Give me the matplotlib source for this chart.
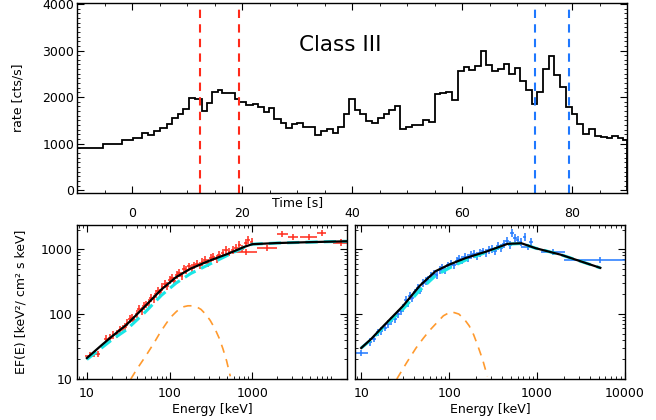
import numpy as np
import matplotlib.pyplot as plt
from matplotlib.ticker import MultipleLocator, LogLocator, NullFormatter, FixedLocator, FixedFormatter

plt.rcParams['font.family'] = ['DejaVu Sans']
plt.rcParams['font.size'] = 9

# light curve (bin edges in s, rate in cts/s)
t_edges = [-10.0, -5.30, -1.84, 0.25, 1.75, 2.99, 3.97, 5.14, 6.32, 7.30, 8.28, 9.32,
           10.37, 11.50, 12.65, 13.63, 14.61, 15.59, 16.44, 17.55, 18.66, 19.50, 20.81,
           21.92, 22.90, 23.94, 24.92, 25.90, 27.01, 27.99, 29.10, 30.08, 31.12, 32.23,
           33.21, 34.32, 35.37, 36.48, 37.52, 38.56, 39.54, 40.52, 41.50, 42.55, 43.66,
           44.64, 45.74, 46.72, 47.77, 48.75, 49.86, 50.84, 51.81, 52.92, 53.97, 55.08,
           56.06, 57.04, 58.15, 59.19, 60.30, 61.28, 62.39, 63.43, 64.41, 65.39, 66.50,
           67.61, 68.59, 69.63, 70.61, 71.59, 72.64, 73.68, 74.73, 75.77, 76.75, 77.86,
           78.90, 79.95, 80.99, 82.04, 83.02, 84.13, 85.23, 86.28, 87.26, 88.30, 89.35,
           90.0]
rate = [902, 1000, 1070, 1112, 1224, 1182, 1266, 1336, 1427, 1545, 1643, 1734,
        1985, 1960, 1706, 1867, 2119, 2147, 2091, 2077, 1951, 1895, 1839, 1853,
        1790, 1671, 1769, 1531, 1441, 1343, 1420, 1441, 1364, 1350, 1182, 1280,
        1308, 1238, 1350, 1643, 1951, 1713, 1636, 1490, 1448, 1559, 1629, 1727,
        1811, 1308, 1350, 1392, 1406, 1517, 1462, 2056, 2077, 2105, 1937, 2566,
        2636, 2580, 2664, 3000, 2692, 2566, 2594, 2706, 2497, 2622, 2336, 2147,
        1853, 2119, 2608, 2874, 2469, 2217, 1797, 1636, 1427, 1210, 1322, 1168,
        1147, 1126, 1168, 1112, 1070]
red_times = [12.4, 19.5]
blue_times = [73.2, 79.4]

# left spectrum (red interval)
red_E = [17, 19, 21, 23, 25, 27, 29, 31, 33, 35, 37, 40, 43, 46, 49, 52, 56, 60, 64, 68,
         72, 77, 82, 88, 94, 100, 107, 114, 122, 130, 140, 150, 160, 172, 185, 200, 215,
         232, 250, 270, 292, 315, 340, 370, 400, 440, 480, 530, 580, 640, 700, 760, 830,
         900, 980]
red_F = [42, 43, 48, 50, 57, 60, 64, 74, 85, 88, 82, 100, 118, 110, 132, 140, 150, 175,
         170, 205, 230, 215, 260, 290, 270, 330, 360, 320, 400, 430, 380, 500, 470, 540,
         510, 560, 600, 560, 640, 680, 620, 720, 760, 700, 800, 880, 960, 900, 980, 1050,
         1150, 1020, 1250, 1400, 1300]
red_wide_E = [11, 13.5, 850, 1500, 2300, 3100, 4800, 6900, 12000]
red_wide_F = [23, 24, 900, 1030, 1720, 1530, 1530, 1760, 1260]
red_wide_lo = [9.5, 12.5, 600, 1150, 2000, 2700, 3800, 6000, 9500]
red_wide_hi = [12.5, 14.5, 1150, 2000, 2700, 3600, 6000, 7800, 14000]

left_tot_E = [10, 15, 20, 30, 50, 80, 120, 180, 300, 500, 800, 1000, 2000, 5000, 14000]
left_tot_F = [21, 33, 45, 68, 130, 240, 370, 500, 660, 840, 1080, 1190, 1240, 1280, 1320]
left_cpl_E = [10, 20, 30, 50, 80, 120, 180, 300, 500, 800, 1000, 2000, 5000, 14000]
left_cpl_F = [20, 40, 57, 105, 195, 300, 420, 580, 800, 1070, 1190, 1240, 1280, 1320]
left_bb_E = [34, 40, 52, 65, 77, 90, 103, 120, 134, 150, 167, 190, 208, 240, 272, 310, 355, 400, 443, 490, 543]
left_bb_F = [10, 14, 23, 36, 52, 70, 89, 108, 122, 130, 134, 134, 131, 118, 100, 80, 59, 42, 29, 19, 11]

# right spectrum (blue interval)
blue_E = [12.5, 14, 15.5, 17, 18.5, 20, 22, 24, 26, 28, 30, 32, 34, 36, 38, 41, 44, 47,
          50, 54, 58, 62, 67, 72, 78, 84, 90, 97, 105, 113, 122, 131, 141, 152, 164, 177,
          190, 205, 222, 240, 260, 282, 305, 330, 360, 390, 420, 455, 490, 520, 560, 600,
          650, 720, 860]
blue_F = [37, 42, 52, 55, 62, 70, 78, 85, 100, 110, 125, 165, 150, 190, 175, 215, 250,
          230, 300, 320, 340, 380, 420, 400, 480, 510, 470, 560, 600, 560, 650, 700, 670,
          760, 720, 800, 840, 780, 880, 920, 860, 960, 1000, 930, 1100, 1050, 1200, 1350,
          1150, 1750, 1500, 1400, 1300, 1550, 1300]
blue_wide_E = [10, 790, 1500, 5200]
blue_wide_F = [25, 1060, 890, 680]
blue_wide_lo = [8.7, 650, 1100, 2000]
blue_wide_hi = [12, 900, 2100, 12000]

right_tot_E = [10, 12.9, 18, 30, 46, 70, 100, 155, 267, 462, 664, 955, 1860, 5240]
right_tot_F = [30, 41, 66, 134, 270, 457, 577, 730, 920, 1205, 1230, 1036, 820, 514]
right_cpl_E = [10, 12.9, 18, 30, 46, 70, 100, 155, 267, 462, 664, 955, 1860, 5240]
right_cpl_F = [30, 40, 63, 120, 230, 390, 510, 680, 900, 1190, 1220, 1036, 820, 514]
right_bb_E = [25.4, 33, 42, 50.6, 60, 70, 86, 105, 129, 150, 169, 190, 211, 240, 272]
right_bb_F = [10, 18, 30, 42, 56, 70, 94, 109, 100, 82, 66, 48, 33, 20, 11]

RED = '#ff2a1a'
BLUE = '#1f78ff'
CYAN = '#19e6e6'
ORANGE = '#ff9a2e'

fig = plt.figure(figsize=(6.56, 4.2), dpi=100)
W, H = 656.0, 420.0


def axes_px(x0, y0, x1, y1):
    return fig.add_axes([x0 / W, 1 - y1 / H, (x1 - x0) / W, (y1 - y0) / H])


def idl_ticks(ax):
    ax.tick_params(which='both', direction='in', top=True, right=True)
    ax.tick_params(which='major', length=5, width=0.8)
    ax.tick_params(which='minor', length=2.5, width=0.6)
    for s in ax.spines.values():
        s.set_linewidth(1.0)


# --- light curve ---
ax = axes_px(77, 3, 627, 193)
ax.stairs(rate, t_edges, color='black', lw=1.3)
for t in red_times:
    ax.axvline(t, color=RED, ls=(0, (4, 3)), lw=1.5)
for t in blue_times:
    ax.axvline(t, color=BLUE, ls=(0, (4, 3)), lw=1.5)
ax.set_xlim(-10, 90)
ax.set_ylim(-60, 4020)
ax.xaxis.set_major_locator(MultipleLocator(20))
ax.xaxis.set_minor_locator(MultipleLocator(5))
ax.yaxis.set_major_locator(MultipleLocator(1000))
ax.yaxis.set_minor_locator(MultipleLocator(100))
idl_ticks(ax)
ax.tick_params(axis='x', pad=10)
ax.tick_params(axis='y', pad=2)
ax.set_ylabel('rate [cts/s]', labelpad=13)
ax.text(0.478, 0.78, 'Class III', transform=ax.transAxes, ha='center', va='center',
        fontsize=15.5)
fig.text(298 / W, 1 - 203 / H, 'Time [s]', ha='center', va='center', fontsize=9)


def spectrum(ax, E, F, wE, wF, wlo, whi, col, totE, totF, cE, cF, bE, bF):
    E = np.array(E)
    F = np.array(F)
    ax.errorbar(E, F, xerr=[E * 0.05, E * 0.05], yerr=[F * 0.13, F * 0.15],
                fmt='none', ecolor=col, elinewidth=1.1)
    wE = np.array(wE)
    ax.errorbar(wE, wF, xerr=[wE - np.array(wlo), np.array(whi) - wE],
                yerr=[np.array(wF) * 0.1, np.array(wF) * 0.12],
                fmt='none', ecolor=col, elinewidth=1.1)
    ax.plot(cE, cF, color=CYAN, lw=2.2, ls=(0, (4, 2)))
    ax.plot(totE, totF, color='black', lw=1.6)
    ax.plot(bE, bF, color=ORANGE, lw=1.2, ls=(0, (5, 4)))
    ax.set_xscale('log')
    ax.set_yscale('log')
    ax.set_ylim(10, 2350)
    idl_ticks(ax)
    ax.xaxis.set_major_locator(LogLocator(base=10))
    ax.xaxis.set_minor_locator(LogLocator(base=10, subs=np.arange(2, 10)))
    ax.xaxis.set_minor_formatter(NullFormatter())
    ax.yaxis.set_minor_formatter(NullFormatter())
    ax.set_xlabel('Energy [keV]', labelpad=2)
    ax.tick_params(axis='x', pad=6)


axl = axes_px(77, 225, 347, 379)
spectrum(axl, red_E, red_F, red_wide_E, red_wide_F, red_wide_lo, red_wide_hi, RED,
         left_tot_E, left_tot_F, left_cpl_E, left_cpl_F, left_bb_E, left_bb_F)
axl.set_xlim(7.6, 14000)
axl.xaxis.set_major_locator(FixedLocator([10, 100, 1000]))
axl.xaxis.set_major_formatter(FixedFormatter(['10', '100', '1000']))
axl.yaxis.set_major_locator(FixedLocator([10, 100, 1000]))
axl.yaxis.set_major_formatter(FixedFormatter(['10', '100', '1000']))
axl.set_ylabel('EF(E) [keV²/ cm² s keV]', labelpad=9)

axr = axes_px(355, 225, 625, 379)
spectrum(axr, blue_E, blue_F, blue_wide_E, blue_wide_F, blue_wide_lo, blue_wide_hi, BLUE,
         right_tot_E, right_tot_F, right_cpl_E, right_cpl_F, right_bb_E, right_bb_F)
axr.set_xlim(8.5, 10000)
axr.xaxis.set_major_locator(FixedLocator([10, 100, 1000, 10000]))
axr.xaxis.set_major_formatter(FixedFormatter(['10', '100', '1000', '10000']))
axr.yaxis.set_major_locator(FixedLocator([10, 100, 1000]))
axr.yaxis.set_major_formatter(NullFormatter())

fig.savefig('out.png', dpi=100)
